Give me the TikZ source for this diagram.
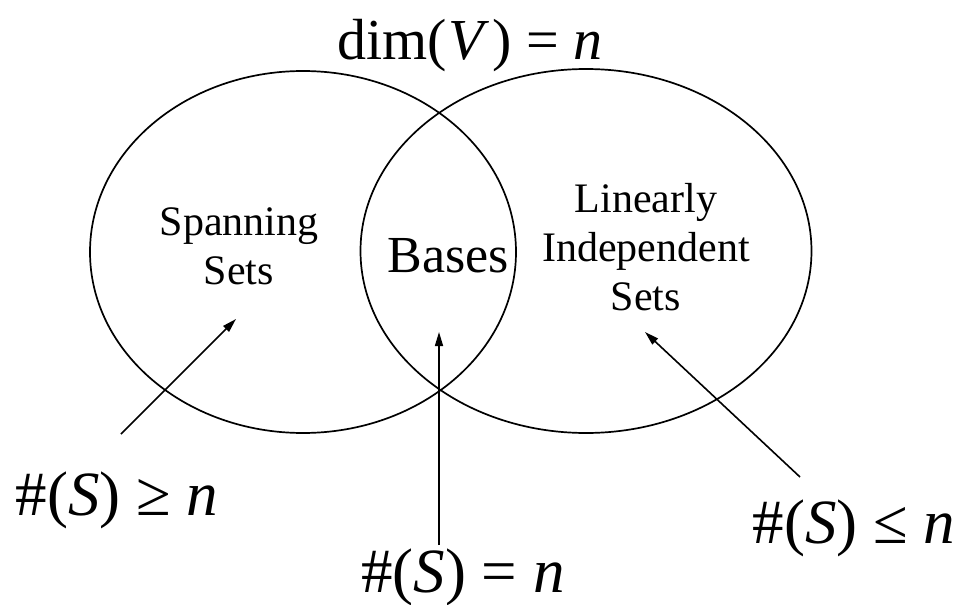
\documentclass[tikz,border=0pt]{standalone}
\usepackage{fontspec}
\setmainfont{Liberation Serif}
\usetikzlibrary{arrows.meta,shapes.geometric}

\begin{document}
\begin{tikzpicture}[
  x=1pt, y=-1pt,
  setshape/.style={draw, ellipse, line width=1.7pt, inner sep=0pt},
  setlabel/.style={align=center, inner sep=0pt, font=\fontsize{42}{49}\selectfont},
  count/.style={inner sep=0pt, anchor=base, font=\fontsize{63}{68}\selectfont},
  arrow/.style={-{Triangle[length=14pt,width=8pt]}, line width=1.6pt}
]
\useasboundingbox (0,0) rectangle (959,605);
% the two sets
\node[setshape, minimum width=426pt, minimum height=362pt] (spanset) at (303,252) {};
\node[setshape, minimum width=451pt, minimum height=364pt] (indset) at (586,251) {};
% texts
\node[inner sep=0pt, anchor=base, font=\fontsize{58}{62}\selectfont] (dimv) at (470,59)
  {dim(\kern1pt\textit{V}\kern3pt) = \textit{n}};
\node[setlabel, anchor=base] (spanning) at (239,284) {Spanning\\Sets};
\node[setlabel, anchor=base, font=\fontsize{52}{56}\selectfont] (bases) at (448,272) {Bases};
\node[setlabel, anchor=base] (linind) at (646,310) {Linearly\\Independent\\Sets};
\node[count] (geq) at (117,515) {\#(\textit{S}) ≥ \textit{n}};
\node[count] (eq) at (463,592) {\#(\textit{S}) = \textit{n}};
\node[count] (leq) at (854,543) {\#(\textit{S}) ≤ \textit{n}};
% arrows
\coordinate (geqtail) at (121,434);
\coordinate (geqtip) at (236,319);
\coordinate (eqtail) at (439,545);
\coordinate (eqtip) at (439,332);
\coordinate (leqtail) at (800,477);
\coordinate (leqtip) at (645,332);
\draw[arrow] (geqtail) -- (geqtip);
\draw[arrow] (eqtail) -- (eqtip);
\draw[arrow] (leqtail) -- (leqtip);
\end{tikzpicture}
\end{document}
